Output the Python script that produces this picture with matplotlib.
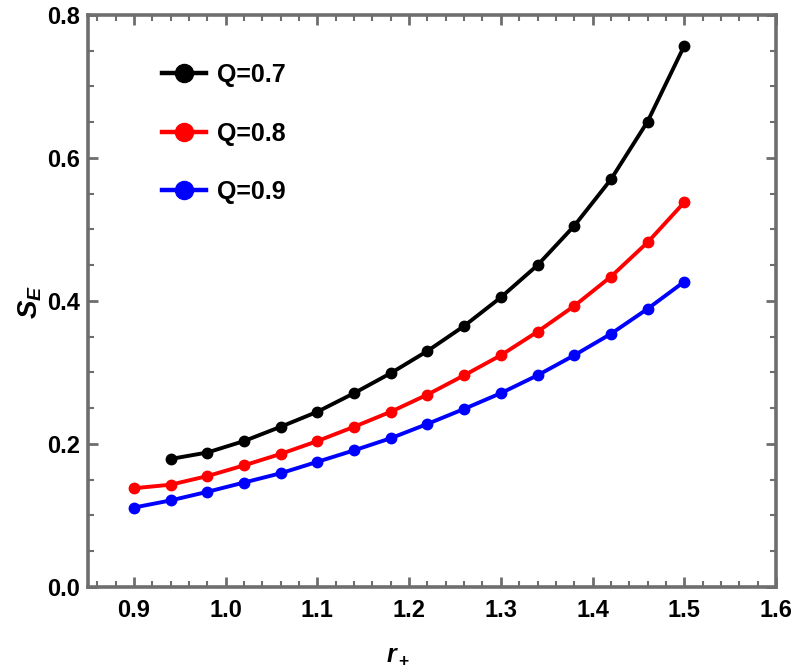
import matplotlib.pyplot as plt
import numpy as np
from matplotlib.ticker import MultipleLocator
from matplotlib.lines import Line2D

plt.rcParams['font.family'] = ['Liberation Sans', 'DejaVu Sans']
plt.rcParams['mathtext.fontset'] = 'custom'
plt.rcParams['mathtext.it'] = 'Liberation Sans:italic:bold'
plt.rcParams['mathtext.rm'] = 'Liberation Sans:bold'

# r_+ values (step 0.04)
r_plus = [0.90, 0.94, 0.98, 1.02, 1.06, 1.10, 1.14, 1.18,
          1.22, 1.26, 1.30, 1.34, 1.38, 1.42, 1.46, 1.50]

# Q=0.7 starts at r_+ = 0.94
r_q07 = r_plus[1:]
se_q07 = [0.179, 0.188, 0.204, 0.224, 0.245, 0.271, 0.299, 0.330,
          0.365, 0.405, 0.450, 0.505, 0.570, 0.651, 0.757]
se_q08 = [0.138, 0.143, 0.155, 0.170, 0.186, 0.204, 0.224, 0.245,
          0.269, 0.296, 0.324, 0.357, 0.393, 0.434, 0.482, 0.538]
se_q09 = [0.111, 0.121, 0.133, 0.146, 0.159, 0.175, 0.191, 0.208,
          0.228, 0.249, 0.271, 0.296, 0.324, 0.354, 0.389, 0.427]

labels = ['Q=0.7', 'Q=0.8', 'Q=0.9']
colors = ['black', 'red', 'blue']

fig = plt.figure(figsize=(7.93, 6.70), dpi=100)
ax = fig.add_axes([0.111, 0.124, 0.8676, 0.8536])

series = [(r_q07, se_q07), (r_plus, se_q08), (r_plus, se_q09)]
for (xs, ys), c in zip(series, colors):
    ax.plot(xs, ys, color=c, lw=2.8, marker='o', ms=7.5)

# Mathematica-like frame
frame_col = '#6e6e6e'
for s in ax.spines.values():
    s.set_color(frame_col)
    s.set_linewidth(2.6)

ax.xaxis.set_major_locator(MultipleLocator(0.1))
ax.xaxis.set_minor_locator(MultipleLocator(0.02))
ax.yaxis.set_major_locator(MultipleLocator(0.2))
ax.yaxis.set_minor_locator(MultipleLocator(0.05))
ax.tick_params(which='both', direction='in', top=True, right=True, color=frame_col)
ax.tick_params(which='major', length=7, width=2)
ax.tick_params(which='minor', length=4, width=1.5)
ax.tick_params(axis='x', labelsize=17, pad=9)
ax.tick_params(axis='y', labelsize=17, pad=6)
ax.set_xticks(ax.get_xticks())
ax.set_xticklabels([f'{v:.1f}' for v in ax.get_xticks()], fontweight='bold')
ax.set_yticks(ax.get_yticks())
ax.set_yticklabels([f'{v:.1f}' for v in ax.get_yticks()], fontweight='bold')
ax.set_xlim(0.85, 1.6)
ax.set_ylim(0, 0.8)

fig.text(0.502, 0.022, r'$r_+$', fontsize=18, ha='center', va='center')
fig.text(0.038, 0.55, r'$S_E$', fontsize=20, ha='center', va='center',
         rotation=90)

handles = [Line2D([0], [0], color=c, lw=3.2, marker='o', ms=13) for c in colors]
leg = ax.legend(handles, labels, loc='upper left', bbox_to_anchor=(0.075, 0.955),
                frameon=False, prop={'size': 18, 'weight': 'bold'},
                handlelength=1.75, labelspacing=1.38, handletextpad=0.45)

fig.savefig('out.png', dpi=100)
